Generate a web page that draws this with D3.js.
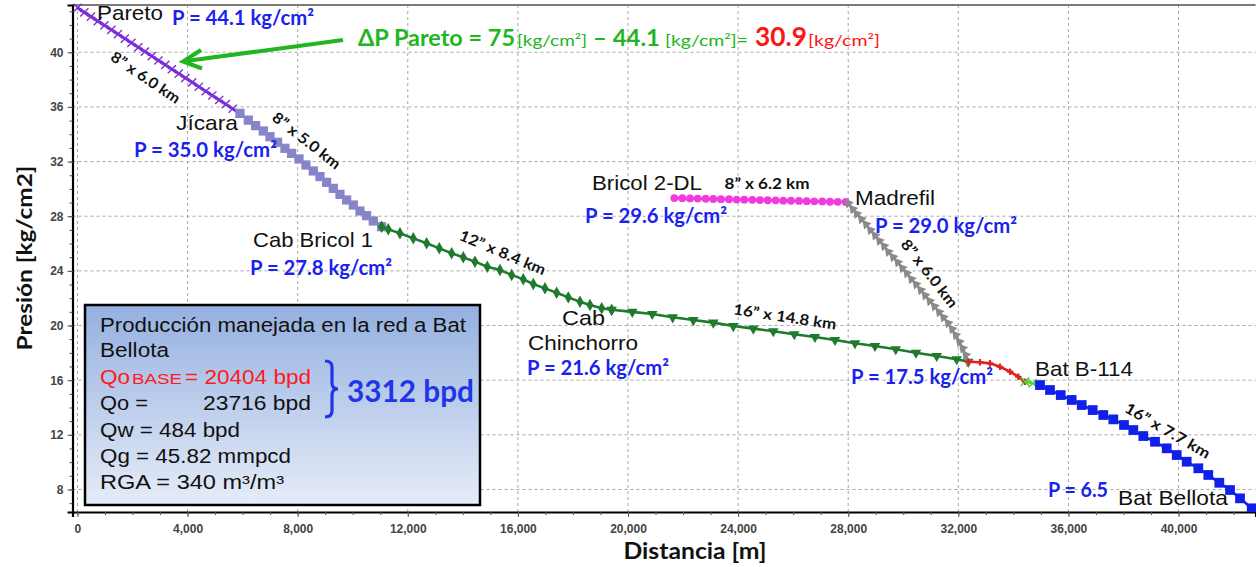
<!DOCTYPE html>
<html><head><meta charset="utf-8">
<script src="https://cdn.jsdelivr.net/npm/d3@7"></script>
<style>body{margin:0;background:#fff}svg{display:block}</style>
</head><body><svg id="c" width="1256" height="567"></svg>
<script>
// ---------------- DATA ----------------
const xTicks = [0,4000,8000,12000,16000,20000,24000,28000,32000,36000,40000];
const yTicks = [8,12,16,20,24,28,32,36,40];

// Pareto -> Jícara  (8" x 6.0 km)
const paretoDist = [0,250,490,740,980,1230,1470,1720,1960,2210,2450,2700,2940,3190,3430,3680,3920,4170,4410,4660,4900,5150,5390,5640,5900];
const paretoPres = [43.25,42.92,42.61,42.28,41.97,41.64,41.33,41.00,40.69,40.36,40.05,39.72,39.40,39.08,38.76,38.44,38.12,37.80,37.48,37.15,36.84,36.51,36.20,35.87,35.53];
// Jícara -> Cab Bricol 1 (8" x 5.0 km)
const jicaraDist = [5904,6206,6473,6751,6994,7272,7538,7781,8047,8301,8568,8810,9052,9294,9537,9779,10021,10263,10505,10747,11050];
const jicaraPres = [35.53,35.04,34.63,34.24,33.82,33.41,32.97,32.60,32.19,31.75,31.31,30.90,30.48,30.04,29.60,29.19,28.82,28.38,28.04,27.65,27.23];
// Cab Bricol 1 -> Cab Chinchorro (12" x 8.4 km)
const bricolDist = [11050,11291,11716,12200,12686,13145,13594,14017,14441,14889,15349,15774,16196,16560,16984,17409,17831,18256,18619,19044,19407];
const bricolPres = [27.23,27.04,26.75,26.38,26.02,25.65,25.29,24.99,24.67,24.30,24.06,23.70,23.38,23.04,22.72,22.40,22.06,21.74,21.50,21.26,21.15];
// Cab Chinchorro -> Bat B-114 junction (16" x 14.8 km)
const chinDist = [19407,20157,20883,21624,22373,23099,23826,24552,25279,26042,26793,27520,28247,28973,29725,30463,31215,31941,32363];
const chinPres = [21.15,21.00,20.84,20.60,20.40,20.21,19.96,19.77,19.58,19.36,19.16,18.94,18.70,18.50,18.26,18.01,17.77,17.53,17.35];
// Bricol 2-DL -> Madrefil (8" x 6.2 km)
const bricol2Dist = [21683,21973,22252,22532,22822,23099,23379,23669,23948,24225,24516,24795,25075,25365,25642,25921,26212,26492,26768,27059,27339,27618,27909];
const bricol2Pres = [29.33,29.32,29.30,29.29,29.28,29.26,29.25,29.24,29.22,29.21,29.20,29.18,29.17,29.16,29.14,29.13,29.12,29.10,29.09,29.08,29.06,29.05,29.04];
// Madrefil -> junction (8" x 6.0 km)
const madreDist = [28005,28163,28308,28476,28646,28803,28973,29130,29300,29457,29627,29798,29965,30125,30292,30463,30633,30790,30960,31128,31298,31455,31625,31771,31905,32036,32159,32268,32363];
const madrePres = [28.95,28.53,28.18,27.80,27.41,26.99,26.60,26.21,25.82,25.40,25.01,24.63,24.21,23.82,23.40,23.02,22.60,22.21,21.79,21.41,20.99,20.60,20.18,19.74,19.30,18.81,18.33,17.84,17.35];
// junction -> Bat B-114
const redDist = [32363,32788,33151,33514,33878,34180,34423];
const redPres = [17.35,17.31,17.23,16.98,16.62,16.25,15.89];
const b114Dist = [34423,34702,34968];
const b114Pres = [15.89,15.77,15.64];
// Bat B-114 -> Bat Bellota (16" x 7.7 km)
const bellotaDist = [34968,35331,35720,36119,36483,36882,37267,37631,38019,38357,38720,39146,39571,39934,40297,40719,41082,41482,41870,42234,42659];
const bellotaPres = [15.64,15.28,14.91,14.55,14.18,13.81,13.45,13.13,12.72,12.35,11.91,11.49,11.01,10.52,10.03,9.55,9.06,8.49,7.96,7.35,6.62];

// ---------------- CHART ----------------
const svg = d3.select('#c');
const FA = "'Liberation Sans', Arial, sans-serif";
const FC = "Lato, 'Open Sans', sans-serif";
const plot = {left:72.5, right:1255.6, top:5, bottom:512};
const x = d3.scaleLinear().domain([-180,42800]).range([plot.left, plot.right]);
const y = d3.scaleLinear().domain([6.35,43.46]).range([plot.bottom, plot.top]);

const defs = svg.append('defs');
defs.append('clipPath').attr('id','clip').append('rect')
  .attr('x',plot.left).attr('y',plot.top-6).attr('width',plot.right-plot.left+6).attr('height',plot.bottom-plot.top+6);
const grad = defs.append('linearGradient').attr('id','boxg').attr('x1',0).attr('y1',0).attr('x2',0).attr('y2',1);
grad.append('stop').attr('offset','0%').attr('stop-color','#94b0e0');
grad.append('stop').attr('offset','100%').attr('stop-color','#e6ecf8');

// grid
const grid = svg.append('g');
grid.selectAll('.vg').data(xTicks).join('line')
  .attr('x1',d=>x(d)).attr('x2',d=>x(d)).attr('y1',plot.top).attr('y2',plot.bottom)
  .attr('stroke','#a8a8a8').attr('stroke-dasharray','3,3').attr('stroke-width',1);
grid.selectAll('.hg').data(yTicks).join('line')
  .attr('y1',d=>y(d)).attr('y2',d=>y(d)).attr('x1',plot.left).attr('x2',plot.right)
  .attr('stroke','#a8a8a8').attr('stroke-dasharray','3,3').attr('stroke-width',1);

// top border
svg.append('line').attr('x1',plot.left).attr('x2',plot.right).attr('y1',plot.top).attr('y2',plot.top)
  .attr('stroke','#7a7a7a').attr('stroke-width',2);

// axes
const xMinor = d3.range(0,42001,1000);
const yMinor = d3.range(7,44,1);
const xa = svg.append('g').attr('transform',`translate(0,${plot.bottom})`)
  .call(d3.axisBottom(x).tickValues(xTicks).tickFormat(d3.format(',')).tickSize(5).tickPadding(7));
svg.append('g').attr('transform',`translate(0,${plot.bottom})`)
  .call(d3.axisBottom(x).tickValues(xMinor).tickFormat('').tickSize(3))
  .call(g=>g.select('.domain').remove());
const ya = svg.append('g').attr('transform',`translate(${plot.left},0)`)
  .call(d3.axisLeft(y).tickValues(yTicks).tickSize(5).tickPadding(4));
svg.append('g').attr('transform',`translate(${plot.left},0)`)
  .call(d3.axisLeft(y).tickValues(yMinor).tickFormat('').tickSize(3))
  .call(g=>g.select('.domain').remove());
[xa,ya].forEach(a=>{
  a.select('.domain').attr('stroke','#000').attr('stroke-width',2.2);
  a.selectAll('text').attr('font-family',FA).attr('font-size',12).attr('font-weight','bold').attr('fill','#444');
});
svg.selectAll('.tick line').attr('stroke','#555');

// series
const symTimes = d3.symbolTimes || d3.symbolCross;
const series = [
  {dist:paretoDist, pres:paretoPres, color:'#7b2fd6', lw:3, type:symTimes, size:45, rot:d3.symbolTimes?0:45, stroke:true},
  {dist:jicaraDist, pres:jicaraPres, color:'#8585c8', lw:2.5, type:d3.symbolSquare, size:85},
  {dist:bricolDist, pres:bricolPres, color:'#1f7a2e', lw:2.5, type:d3.symbolDiamond, size:45},
  {dist:chinDist, pres:chinPres, color:'#1f7a2e', lw:2.6, type:d3.symbolTriangle, size:48, rot:180},
  {dist:bricol2Dist, pres:bricol2Pres, color:'#f03cdf', lw:2.5, type:d3.symbolCircle, size:48},
  {dist:madreDist, pres:madrePres, color:'#8a8a8a', lw:2.5, type:d3.symbolTriangle, size:40, rot:200},
  {dist:redDist, pres:redPres, color:'#e0201a', lw:2.6, type:d3.symbolCross, size:24},
  {dist:b114Dist, pres:b114Pres, color:'#4cd43c', lw:2.6, type:symTimes, size:50, rot:d3.symbolTimes?0:45, stroke:true},
  {dist:bellotaDist, pres:bellotaPres, color:'#1020e8', lw:2.6, type:d3.symbolSquare, size:95}
];
const sg = svg.append('g').attr('clip-path','url(#clip)');
series.forEach(s=>{
  const pts = s.dist.map((d,i)=>[x(d), y(s.pres[i])]);
  sg.append('path').attr('d', d3.line()(pts)).attr('fill','none')
    .attr('stroke',s.color).attr('stroke-width',s.lw);
  const sym = d3.symbol().type(s.type).size(s.size);
  sg.append('g').selectAll('path').data(pts).join('path')
    .attr('transform',d=>`translate(${d[0]},${d[1]}) rotate(${s.rot||0})`)
    .attr('d',sym)
    .attr('fill', s.stroke ? 'none' : s.color)
    .attr('stroke', s.stroke ? s.color : 'none')
    .attr('stroke-width', s.stroke ? 1.4 : 0);
});

// ---------------- TEXT ----------------
function label(t, px, py, o={}) {
  const el = svg.append('text').text(t)
    .attr('font-family', o.ff||FA).attr('font-size', o.fs||20)
    .attr('font-weight', o.fw||'normal').attr('fill', o.fill||'#111');
  if (o.w) el.attr('textLength',o.w).attr('lengthAdjust','spacingAndGlyphs');
  if (o.rot!=null) {
    el.attr('x',0).attr('y',0).attr('transform',`translate(${px},${py}) rotate(${o.rot})`)
      .attr('text-anchor','middle').attr('dominant-baseline','central');
  } else {
    el.attr('x',px).attr('y',py);
    if (o.anchor) el.attr('text-anchor',o.anchor);
  }
  return el;
}
const BLUE = '#1a22f0';
// node names
label('Pareto', 97, 19.5, {fs:21, w:66});
label('Jícara', 176, 129.5, {fs:21, w:62});
label('Cab Bricol 1', 253, 246.5, {fs:21, w:120});
label('Cab', 562, 325, {fs:21, w:43});
label('Chinchorro', 528, 350, {fs:21, w:110});
label('Bricol 2-DL', 592, 190, {fs:21, w:110});
label('Madrefil', 855, 205, {fs:21, w:80});
label('Bat B-114', 1035, 376, {fs:21, w:98});
label('Bat Bellota', 1118, 505, {fs:21, w:110});
// pressures
const pOpt = (w)=>({ff:FC, fs:20, fw:'bold', fill:BLUE, w:w});
label('P = 44.1 kg/cm²', 172, 25, pOpt(142));
label('P = 35.0 kg/cm²', 134, 156.5, pOpt(143));
label('P = 27.8 kg/cm²', 250, 275, pOpt(142));
label('P = 21.6 kg/cm²', 527, 375, pOpt(142));
label('P = 29.6 kg/cm²', 585, 223, pOpt(142));
label('P = 29.0 kg/cm²', 875, 233, pOpt(142));
label('P = 17.5 kg/cm²', 851, 384, pOpt(142));
label('P = 6.5', 1048, 496.5, pOpt(60));
// pipe specs
const sOpt = (rot,w)=>({ff:FC, fs:15, fw:'bold', fill:'#111', rot:rot, w:w});
label('8” x 6.0 km', 146, 77, sOpt(34, 80));
label('8” x 5.0 km', 307, 140, sOpt(38, 82));
label('12” x 8.4 km', 503, 252, sOpt(23, 92));
label('8” x 6.2 km', 767, 183, sOpt(0, 85));
label('8” x 6.0 km', 930, 273, sOpt(52, 82));
label('16” x 14.8 km', 785, 316, sOpt(8.5, 104));
label('16” x 7.7 km', 1168, 430, sOpt(30, 96));

// Delta P annotation
const GREEN = '#22b522';
label('ΔP Pareto = 75', 358, 46, {ff:FC, fs:22, fw:'bold', fill:GREEN, w:157});
label('[kg/cm²]', 517, 46, {ff:FC, fs:15, fill:GREEN, w:70});
label('– 44.1', 593, 46, {ff:FC, fs:22, fw:'bold', fill:GREEN, w:67});
label('[kg/cm²]=', 665, 46, {ff:FC, fs:15, fill:GREEN, w:83});
label('30.9', 755, 46, {ff:FC, fs:27, fw:'bold', fill:'#ff1414', w:52});
label('[kg/cm²]', 808, 46, {ff:FC, fs:15, fill:'#ff1414', w:72});
// arrow
svg.append('line').attr('x1',343).attr('y1',40).attr('x2',186).attr('y2',61)
  .attr('stroke',GREEN).attr('stroke-width',4);
svg.append('path').attr('d','M201,50 L183,61.5 L202,68.5').attr('fill','none')
  .attr('stroke',GREEN).attr('stroke-width',4).attr('stroke-linejoin','miter');

// info box
svg.append('rect').attr('x',85).attr('y',305).attr('width',395).attr('height',200)
  .attr('fill','url(#boxg)').attr('stroke','#000').attr('stroke-width',2.5);
const bOpt = (w,fill)=>({fs:19.5, w:w, fill:fill||'#111'});
label('Producción manejada en la red a Bat', 100, 332, bOpt(366));
label('Bellota', 100, 357, bOpt(69));
label('Qo', 100, 384, bOpt(30,'#ff1a1a'));
label('BASE', 132, 384, {fs:14, w:50, fill:'#ff1a1a'});
label('= 20404 bpd', 185, 384, bOpt(126,'#ff1a1a'));
label('Qo =', 100, 410, bOpt(48));
label('23716 bpd', 203, 410, bOpt(108));
label('Qw = 484 bpd', 100, 436.5, bOpt(140));
label('Qg = 45.82 mmpcd', 100, 463, bOpt(191));
label('RGA = 340  m³/m³', 100, 489, bOpt(184));
svg.append('path')
  .attr('d','M325,361 Q332,361 332,367 L332,383 Q332,389 338,389 Q332,389 332,395 L332,411 Q332,417 325,417')
  .attr('fill','none').attr('stroke','#1f35e8').attr('stroke-width',3.2);
label('3312 bpd', 347, 401.5, {ff:FC, fs:31, fw:'bold', fill:'#1f35e8', w:127});

// axis titles
label('Presión [kg/cm2]', 23, 258, {ff:FC, fs:21, fw:'bold', rot:-90, w:185});
label('Distancia [m]', 695, 559, {ff:FC, fs:22, fw:'bold', anchor:'middle', w:143});
</script></body></html>
